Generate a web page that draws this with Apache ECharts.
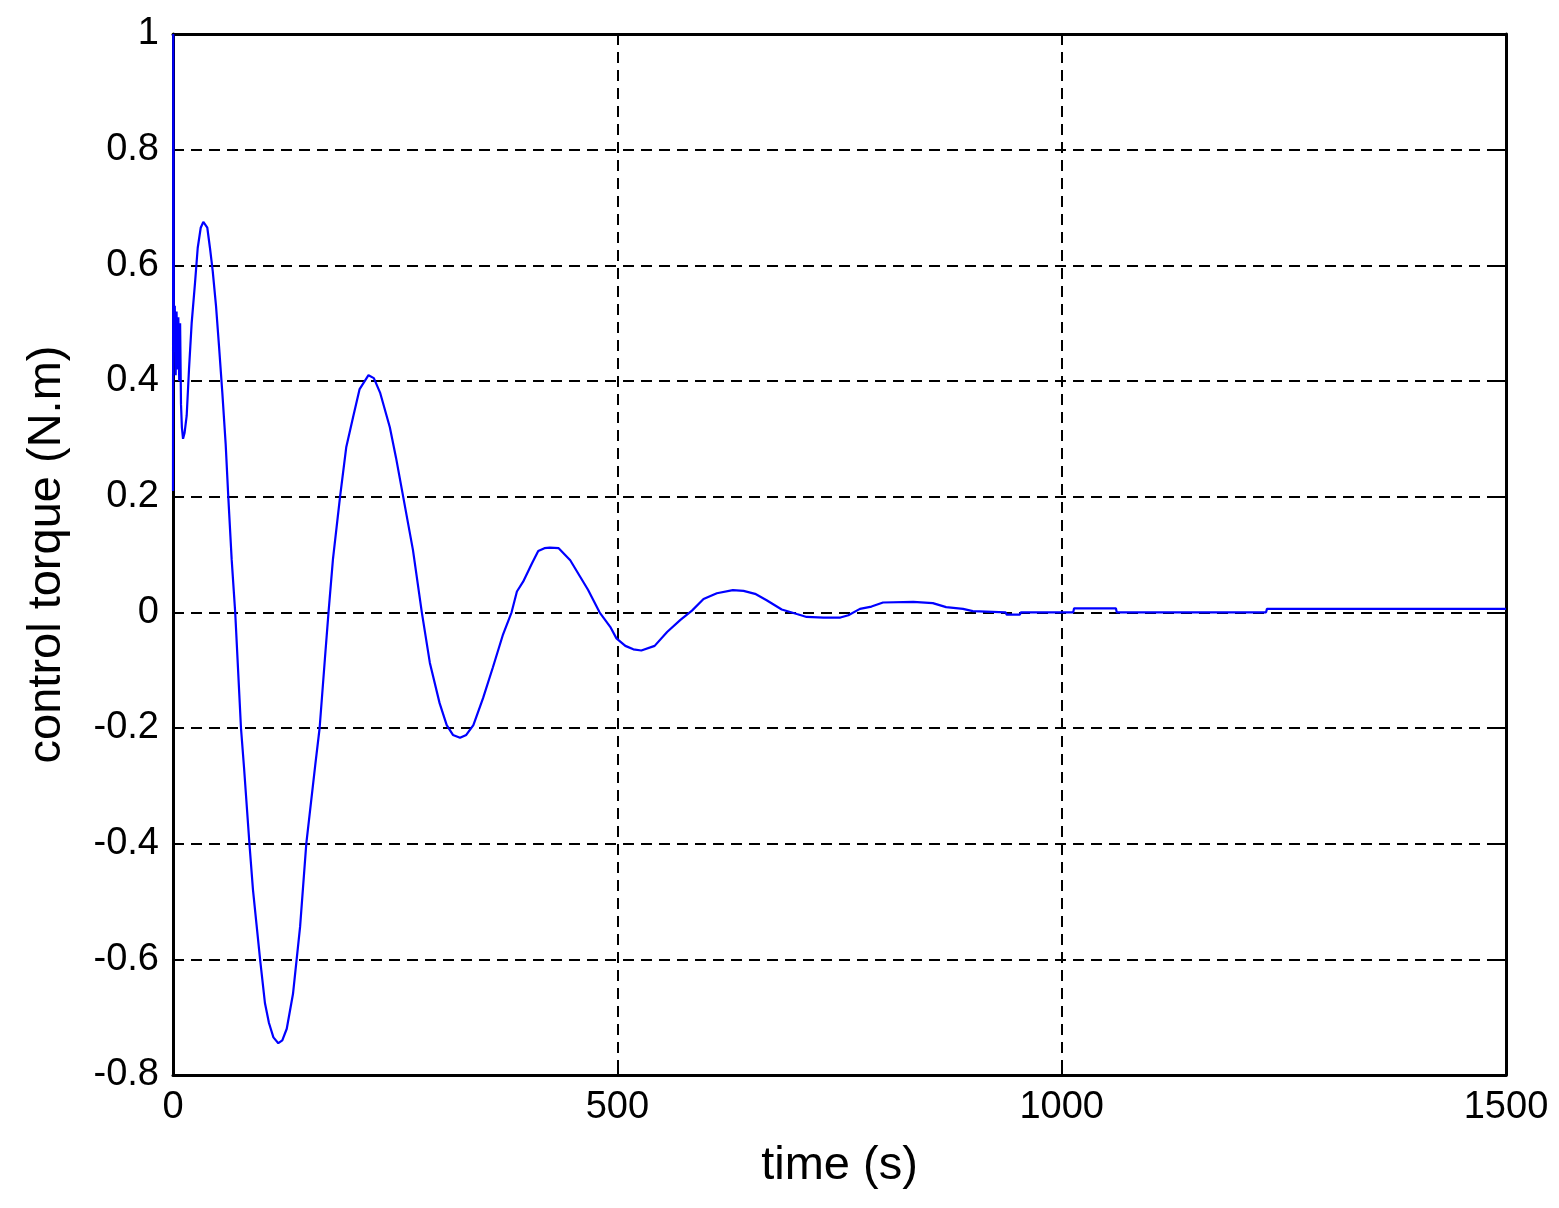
<!DOCTYPE html>
<html>
<head>
<meta charset="utf-8">
<script src="https://cdn.jsdelivr.net/npm/echarts@6/dist/echarts.min.js"></script>
<style>
html,body{margin:0;padding:0;background:#fff;}
#chart{width:1559px;height:1208px;}
</style>
</head>
<body>
<div id="chart"></div>
<script>
// time (s)
const timeS = [0, 0.3, 1, 2, 3, 4, 5, 6, 7, 8, 9, 10, 11.3, 13, 15.4, 18, 21, 24.8, 27.8, 31.2, 34.1, 38.6, 41.6, 44.7, 48.4, 51.8, 55.5, 59.3, 62.2, 66, 70, 76.5, 80, 86, 90, 94, 98, 103.5, 108, 113, 118.5, 123, 128, 135, 143, 150, 160, 165, 171, 175, 180, 188, 195, 203, 210, 220, 226, 233, 244, 251, 259, 270, 280, 289, 300, 308, 315, 323, 330, 338, 349, 360, 371, 381, 387, 394, 404, 411, 418, 424, 434, 447, 458, 467, 480, 492, 499, 509, 518, 527, 542, 556, 571, 584, 597, 612, 630, 642, 655, 668, 685, 702, 713, 732, 751, 760, 773, 786, 799, 833, 855, 870, 889, 900, 937, 938, 953, 954, 1013, 1014, 1061, 1062, 1230, 1231, 1500];
// control torque (N.m)
const torque = [0.21, 1.0, 0.45, 0.53, 0.41, 0.52, 0.42, 0.51, 0.40, 0.50, 0.36, 0.32, 0.30, 0.31, 0.34, 0.42, 0.50, 0.57, 0.63, 0.665, 0.675, 0.665, 0.63, 0.59, 0.53, 0.46, 0.38, 0.29, 0.2, 0.092, 0.0, -0.2, -0.27, -0.4, -0.48, -0.54, -0.6, -0.676, -0.71, -0.735, -0.745, -0.74, -0.72, -0.66, -0.544, -0.40, -0.265, -0.2, -0.079, 0.0, 0.092, 0.2, 0.286, 0.34, 0.386, 0.41, 0.405, 0.38, 0.32, 0.267, 0.2, 0.108, 0.0, -0.087, -0.157, -0.195, -0.212, -0.217, -0.212, -0.195, -0.148, -0.095, -0.04, 0.0, 0.036, 0.053, 0.085, 0.106, 0.111, 0.112, 0.111, 0.09, 0.062, 0.039, 0.0, -0.025, -0.045, -0.058, -0.064, -0.066, -0.058, -0.034, -0.013, 0.003, 0.023, 0.033, 0.0385, 0.037, 0.032, 0.021, 0.005, -0.003, -0.008, -0.009, -0.009, -0.005, 0.006, 0.01, 0.017, 0.018, 0.016, 0.009, 0.006, 0.002, 0.0, -0.004, -0.004, 0, 0, 0.007, 0.007, 0, 0, 0.006, 0.006];
const xTicks = [0, 500, 1000, 1500];
const yTicks = [-0.8, -0.6, -0.4, -0.2, 0, 0.2, 0.4, 0.6, 0.8, 1];
const xTitle = 'time (s)';
const yTitle = 'control torque (N.m)';

const FONT = '"Liberation Sans", Arial, sans-serif';
const data = timeS.map((t, i) => [t, torque[i]]);

const gridLine = {show: true, lineStyle: {color: '#000', width: 2, type: [11, 7]}};
const axLine = {show: true, onZero: false, lineStyle: {color: '#000', width: 3}};
const tick = {show: true, inside: true, length: 10, lineStyle: {color: '#000', width: 2}};

const chart = echarts.init(document.getElementById('chart'), null, {renderer: 'canvas'});
chart.setOption({
  animation: false,
  backgroundColor: '#fff',
  grid: {left: 173, right: 53, top: 34, bottom: 133, containLabel: false, outerBoundsMode: 'none'},
  xAxis: [{
    type: 'value', min: xTicks[0], max: xTicks[xTicks.length - 1], interval: 500,
    position: 'bottom',
    name: xTitle, nameLocation: 'middle', nameGap: 68,
    nameTextStyle: {fontFamily: FONT, fontSize: 47, color: '#000'},
    axisLine: axLine, axisTick: tick, splitLine: gridLine,
    axisLabel: {fontFamily: FONT, fontSize: 38, color: '#000', margin: 14,
      formatter: v => String(v)}
  }, {
    type: 'value', min: xTicks[0], max: xTicks[xTicks.length - 1], interval: 500,
    position: 'top',
    axisLine: axLine, axisTick: tick, splitLine: {show: false}, axisLabel: {show: false}
  }],
  yAxis: [{
    type: 'value', min: yTicks[0], max: yTicks[yTicks.length - 1], interval: 0.2,
    position: 'left',
    name: yTitle, nameLocation: 'middle', nameGap: 102, nameRotate: 90,
    nameTextStyle: {fontFamily: FONT, fontSize: 47, color: '#000'},
    axisLine: axLine, axisTick: tick, splitLine: gridLine,
    axisLabel: {fontFamily: FONT, fontSize: 38, color: '#000', margin: 14,
      formatter: v => String(+v.toFixed(1))}
  }, {
    type: 'value', min: yTicks[0], max: yTicks[yTicks.length - 1], interval: 0.2,
    position: 'right',
    axisLine: axLine, axisTick: tick, splitLine: {show: false}, axisLabel: {show: false}
  }],
  series: [{
    type: 'line', xAxisIndex: 0, yAxisIndex: 0,
    data: data, showSymbol: false, symbol: 'none', smooth: false,
    lineStyle: {color: '#0000ff', width: 2.2},
    clip: false, z: 5
  }]
});
</script>
</body>
</html>
